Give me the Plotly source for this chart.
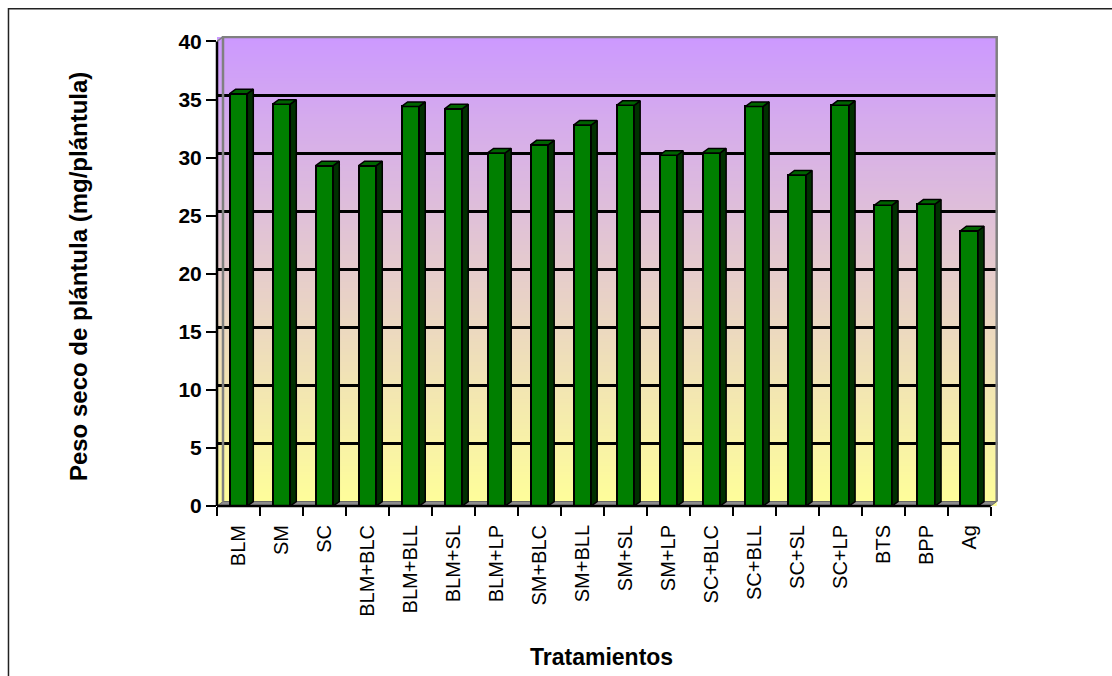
import plotly.graph_objects as go

# ---------------- data ----------------
categories = ["BLM", "SM", "SC", "BLM+BLC", "BLM+BLL", "BLM+SL", "BLM+LP", "SM+BLC",
              "SM+BLL", "SM+SL", "SM+LP", "SC+BLC", "SC+BLL", "SC+SL", "SC+LP",
              "BTS", "BPP", "Ag"]
peso_seco = [35.5, 34.6, 29.3, 29.3, 34.4, 34.2, 30.4, 31.1, 32.8, 34.5,
             30.2, 30.4, 34.4, 28.5, 34.5, 25.9, 26.0, 23.7]
y_tick_values = [0, 5, 10, 15, 20, 25, 30, 35, 40]
grid_values = [5, 10, 15, 20, 25, 30, 35]
x_title = "Tratamientos"
y_title = "Peso seco de plántula (mg/plántula)"

# ---------------- geometry / style ----------------
W, H = 1112, 676
X0_PX, Y0_PX = 217, 506          # pixel position of the axes origin
PX_X, PX_Y = 42.98, 11.62        # pixels per category / per unit
DX_PX, DY_PX = 6.0, 4.5          # 3-D depth offset
dxu, dyu = DX_PX / PX_X, DY_PX / PX_Y
n = len(categories)
idx = list(range(n))
x_lo, x_hi = -0.5, n - 0.5 + dxu + 0.03
y_hi = 40 + dyu + 0.08
plot_w = (x_hi - x_lo) * PX_X
plot_h = y_hi * PX_Y
m_l, m_b = X0_PX, H - Y0_PX
m_r = W - X0_PX - plot_w
m_t = Y0_PX - plot_h

def pxp(px):
    return (px - X0_PX) / plot_w

def pyp(py):
    return (Y0_PX - py) / plot_h

FONT = "Liberation Sans, Arial, sans-serif"
BAR_W = 0.41
TOP_C = (204, 153, 255)
BOT_C = (255, 255, 153)

shapes = []
# gradient walls
N = 140
wall_top = 40 + dyu
for i in range(N):
    t0 = i / N
    t1 = (i + 1) / N
    t = (t0 + t1) / 2
    c = tuple(round(BOT_C[k] + (TOP_C[k] - BOT_C[k]) * t) for k in range(3))
    shapes.append(dict(type="rect", xref="x", yref="y", layer="below",
                       x0=x_lo, x1=n - 0.5 + dxu,
                       y0=t0 * wall_top, y1=min(wall_top, t1 * wall_top + 0.12),
                       line=dict(width=0), fillcolor="rgb(%d,%d,%d)" % c))
# floor
shapes.append(dict(type="path", xref="x", yref="y", layer="between",
                   path="M %f,0 L %f,0 L %f,%f L %f,%f Z" % (
                       x_lo, n - 0.5, n - 0.5 + dxu, dyu, x_lo + dxu, dyu),
                   fillcolor="#8c8c8c", line=dict(color="#666666", width=1)))
# back wall outline
shapes.append(dict(type="path", xref="x", yref="y", layer="between",
                   path="M %f,%f L %f,%f L %f,%f L %f,%f" % (
                       x_lo + dxu, dyu, x_lo + dxu, 40 + dyu,
                       n - 0.5 + dxu, 40 + dyu, n - 0.5 + dxu, dyu),
                   line=dict(color="#808080", width=2.5)))
shapes.append(dict(type="line", xref="x", yref="y", layer="between",
                   x0=x_lo, y0=40, x1=x_lo + dxu, y1=40 + dyu,
                   line=dict(color="#808080", width=1.5)))
# front axis lines
shapes.append(dict(type="line", xref="paper", yref="paper",
                   x0=0, x1=(n - 0.5 - x_lo) / (x_hi - x_lo), y0=0, y1=0,
                   line=dict(color="black", width=2.5)))
shapes.append(dict(type="line", xref="paper", yref="paper",
                   x0=0, x1=0, y0=0, y1=40 / y_hi,
                   line=dict(color="black", width=2.5)))
# outer chart border
shapes.append(dict(type="rect", xref="paper", yref="paper",
                   x0=pxp(8.5), x1=pxp(1125), y0=pyp(700), y1=pyp(8.5),
                   line=dict(color="#222222", width=1.5), fillcolor="rgba(0,0,0,0)"))

# 3-D side faces and caps
side_x, side_y, cap_x, cap_y = [], [], [], []
for c, v in zip(idx, peso_seco):
    r = c + BAR_W / 2
    l = c - BAR_W / 2
    side_x += [r, r + dxu, r + dxu, r, r, None]
    side_y += [0, dyu, v + dyu, v, 0, None]
    cap_x += [l, l + dxu, r + dxu, r, l, None]
    cap_y += [v, v + dyu, v + dyu, v, v, None]

fig = go.Figure()
fig.add_trace(go.Bar(x=idx, y=peso_seco, width=BAR_W,
                     marker=dict(color="#007f00", line=dict(color="black", width=2)),
                     hoverinfo="skip", showlegend=False))
fig.add_trace(go.Scatter(x=side_x, y=side_y, mode="lines", fill="toself",
                         fillcolor="#003000", line=dict(color="black", width=1.5),
                         hoverinfo="skip", showlegend=False))
fig.add_trace(go.Scatter(x=cap_x, y=cap_y, mode="lines", fill="toself",
                         fillcolor="#006400", line=dict(color="black", width=1.5),
                         hoverinfo="skip", showlegend=False))
# helper trace for the back-wall grid axis
fig.add_trace(go.Scatter(x=[None], y=[None], yaxis="y2", showlegend=False,
                         hoverinfo="skip"))

fig.update_layout(
    width=W, height=H,
    margin=dict(l=m_l, r=m_r, t=m_t, b=m_b, pad=0),
    paper_bgcolor="white", plot_bgcolor="white",
    font=dict(family=FONT, color="black"),
    shapes=shapes,
    bargap=0,
    xaxis=dict(range=[x_lo, x_hi], tickmode="array", tickvals=idx, ticktext=categories,
               tickangle=-90, ticks="outside", ticklen=10, tickcolor="rgba(0,0,0,0)",
               tickfont=dict(family=FONT, size=20, color="black"),
               showgrid=False, zeroline=False, showline=False,
               minor=dict(tickmode="array", tickvals=[i - 0.5 for i in range(n + 1)],
                          ticks="outside", ticklen=9, tickwidth=2, tickcolor="black",
                          showgrid=False)),
    yaxis=dict(range=[0, y_hi], tickmode="array", tickvals=y_tick_values,
               ticks="outside", ticklen=10, tickwidth=2, tickcolor="black",
               tickfont=dict(family=FONT, size=21, color="black", weight=700),
               showgrid=False, zeroline=False, showline=False),
    yaxis2=dict(overlaying="y", range=[-dyu, y_hi - dyu], tickmode="array",
                tickvals=grid_values, showticklabels=False, ticks="",
                showgrid=True, gridcolor="black", gridwidth=2.5,
                zeroline=False, showline=False),
    annotations=[
        dict(text=y_title, xref="paper", yref="paper", x=pxp(78), y=pyp(276),
             xanchor="center", yanchor="middle", textangle=-90, showarrow=False,
             font=dict(family=FONT, size=24, color="black", weight=700)),
        dict(text=x_title, xref="paper", yref="paper", x=pxp(601), y=pyp(657),
             xanchor="center", yanchor="middle", showarrow=False,
             font=dict(family=FONT, size=23, color="black", weight=700)),
    ],
)

fig.write_html("out.html")
